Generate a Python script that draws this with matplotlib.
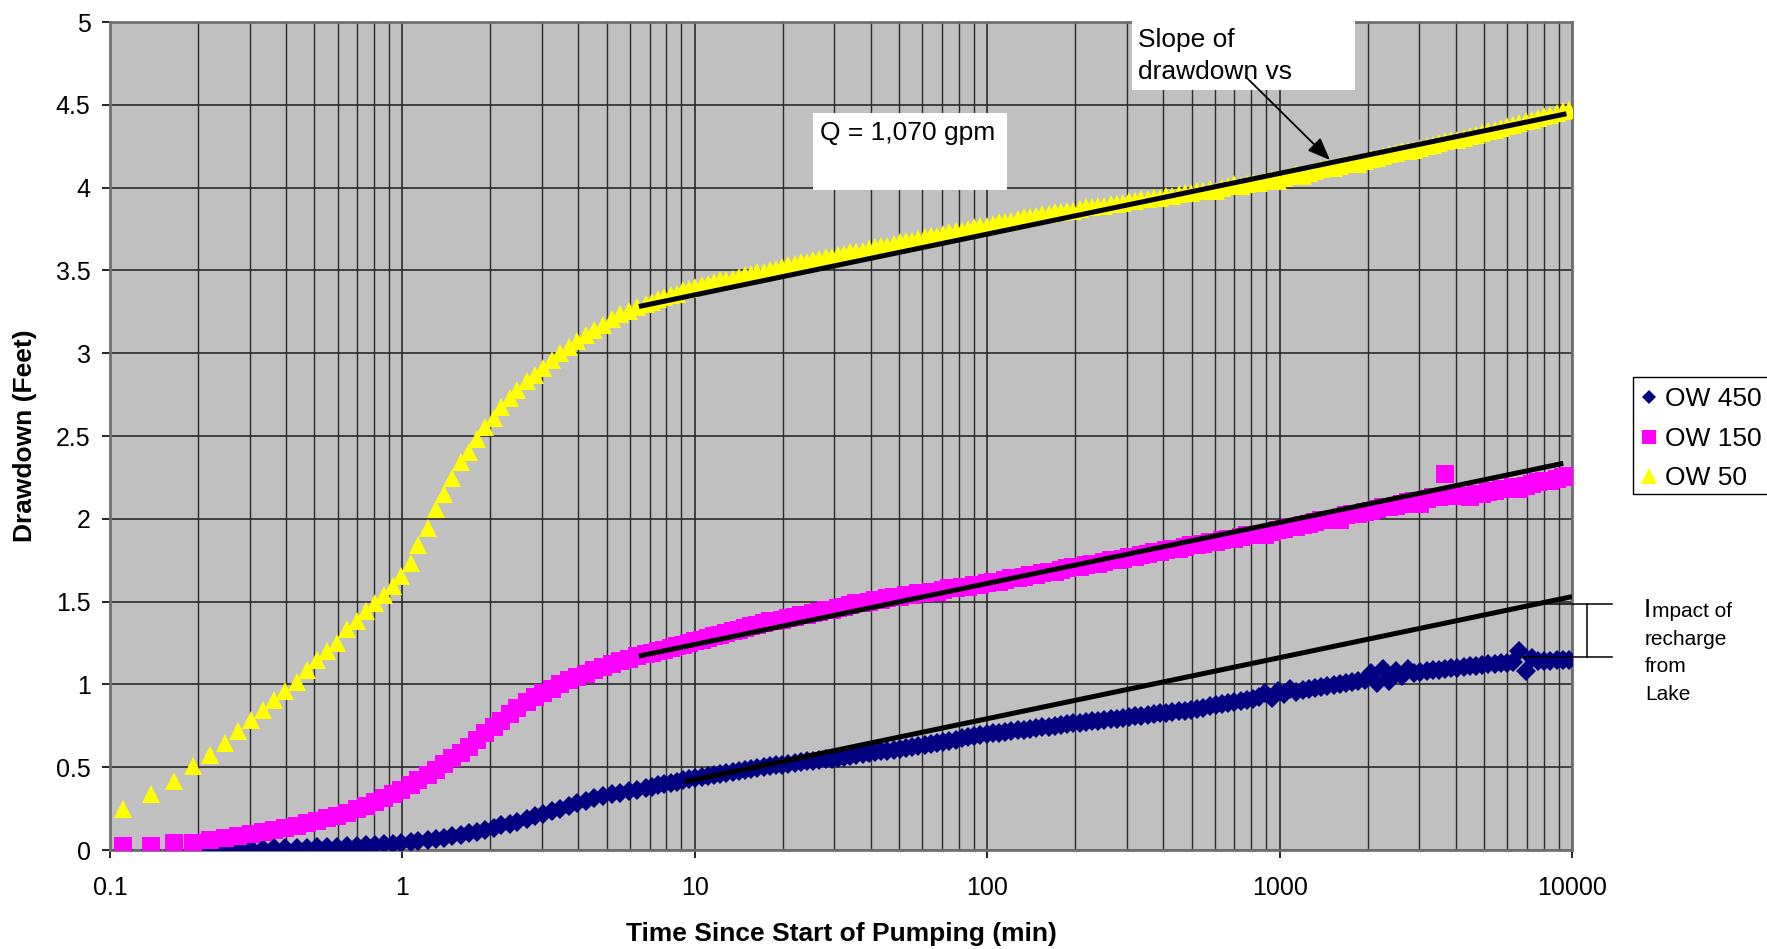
import matplotlib
matplotlib.use("Agg")
import matplotlib.pyplot as plt
from matplotlib.lines import Line2D
from matplotlib.patches import Rectangle, FancyArrowPatch
from matplotlib.ticker import LogLocator, NullFormatter

plt.rcParams['font.family'] = ['Liberation Sans', 'DejaVu Sans']

W, H = 1767, 949

# elapsed time since the pump was switched on (min), same logger schedule for all wells
time_min = [
    0.111, 0.138, 0.166, 0.193, 0.220, 0.247, 0.275, 0.303, 0.333, 0.365,
    0.397, 0.435, 0.471, 0.512, 0.554, 0.596, 0.645, 0.698, 0.750, 0.808,
    0.866, 0.930, 0.992, 1.066, 1.133, 1.221, 1.304, 1.387, 1.481, 1.585,
    1.69, 1.80, 1.92, 2.05, 2.18, 2.33, 2.47, 2.67, 2.85, 3.03,
    3.24, 3.45, 3.70, 3.96, 4.24, 4.53, 4.85, 5.19, 5.55, 5.94,
    6.36, 6.80, 7.14, 7.50, 7.87, 8.27, 8.68, 9.11, 9.57, 10.05,
    10.55, 11.08, 11.63, 12.21, 12.82, 13.46, 14.14, 14.84, 15.59, 16.36,
    17.18, 18.04, 18.94, 19.89, 20.89, 21.93, 23.03, 24.18, 25.39, 26.66,
    27.99, 29.39, 30.86, 32.40, 34.02, 35.72, 37.51, 39.38, 41.35, 43.42,
    45.59, 47.87, 50.26, 52.78, 55.41, 58.18, 61.09, 64.15, 67.35, 70.72,
    74.26, 77.97, 81.87, 85.96, 90.26, 94.77, 99.51, 104.5, 109.7, 115.2,
    121.0, 127.0, 133.4, 140.0, 147.0, 154.4, 162.1, 170.2, 178.7, 187.7,
    197.1, 206.9, 217.3, 228.1, 239.5, 251.5, 264.1, 277.3, 291.1, 305.7,
    321.0, 337.0, 353.9, 371.6, 390.1, 409.6, 430.1, 451.6, 474.2, 497.9,
    522.8, 548.9, 576.4, 605.2, 635.5, 667.2, 700.6, 735.6, 772.4, 811.0,
    851.6, 894.2, 938.9, 985.8, 1035, 1087, 1141, 1198, 1258, 1321,
    1387, 1457, 1530, 1606, 1686, 1771, 1859, 1952, 2050, 2152,
    2260, 2373, 2492, 2616, 2747, 2884, 3028, 3180, 3339, 3506,
    3681, 3865, 4058, 4261, 4474, 4698, 4933, 5180, 5439, 5711,
    5996, 6296, 6611, 6941, 7288, 7653, 8035, 8437, 8859, 9302,
    9767,
]

# drawdown (ft) in each observation well
ow450 = [
    0.0, 0.0, 0.0, 0.0, 0.0, 0.005, 0.005, 0.007, 0.008, 0.01,
    0.01, 0.012, 0.014, 0.016, 0.018, 0.02, 0.022, 0.025, 0.028, 0.031,
    0.034, 0.038, 0.042, 0.047, 0.053, 0.06, 0.067, 0.075, 0.083, 0.092,
    0.101, 0.11, 0.12, 0.131, 0.148, 0.16, 0.172, 0.19, 0.205, 0.22,
    0.236, 0.25, 0.267, 0.283, 0.298, 0.312, 0.325, 0.337, 0.347, 0.355,
    0.365, 0.375, 0.383, 0.39, 0.398, 0.405, 0.413, 0.42, 0.428, 0.435,
    0.442, 0.448, 0.454, 0.46, 0.466, 0.472, 0.478, 0.483, 0.489, 0.494,
    0.50, 0.506, 0.511, 0.516, 0.521, 0.526, 0.531, 0.535, 0.539, 0.544,
    0.548, 0.552, 0.558, 0.563, 0.569, 0.575, 0.58, 0.586, 0.59, 0.595,
    0.60, 0.605, 0.61, 0.616, 0.623, 0.629, 0.636, 0.642, 0.648, 0.655,
    0.661, 0.667, 0.674, 0.68, 0.687, 0.693, 0.70, 0.704, 0.709, 0.713,
    0.718, 0.722, 0.727, 0.732, 0.736, 0.741, 0.745, 0.75, 0.755, 0.759,
    0.764, 0.768, 0.772, 0.777, 0.781, 0.785, 0.79, 0.794, 0.798, 0.803,
    0.807, 0.812, 0.816, 0.82, 0.825, 0.829, 0.833, 0.838, 0.842, 0.846,
    0.853, 0.86, 0.867, 0.873, 0.88, 0.887, 0.894, 0.901, 0.907, 0.914,
    0.921, 0.948, 0.92, 0.96, 0.94, 0.975, 0.955, 0.968, 0.974, 0.98,
    0.986, 0.992, 0.998, 1.004, 1.01, 1.016, 1.022, 1.028, 1.07, 1.01,
    1.09, 1.02, 1.08, 1.05, 1.09, 1.07, 1.074, 1.079, 1.084, 1.088,
    1.093, 1.098, 1.102, 1.106, 1.11, 1.114, 1.117, 1.121, 1.125, 1.128,
    1.13, 1.133, 1.20, 1.08, 1.16, 1.14, 1.141, 1.143, 1.145, 1.146,
    1.148,
]
ow150 = [
    0.025, 0.025, 0.04, 0.045, 0.06, 0.07, 0.085, 0.097, 0.111, 0.121,
    0.135, 0.147, 0.161, 0.175, 0.191, 0.207, 0.225, 0.246, 0.266, 0.292,
    0.312, 0.336, 0.362, 0.393, 0.423, 0.453, 0.483, 0.517, 0.553, 0.588,
    0.624, 0.664, 0.704, 0.745, 0.78, 0.82, 0.855, 0.895, 0.925, 0.95,
    0.975, 1.0, 1.025, 1.045, 1.065, 1.085, 1.105, 1.125, 1.14, 1.155,
    1.17, 1.185, 1.19, 1.20, 1.21, 1.22, 1.23, 1.24, 1.25, 1.26,
    1.27, 1.28, 1.29, 1.30, 1.31, 1.32, 1.33, 1.34, 1.35, 1.36,
    1.37, 1.38, 1.38, 1.39, 1.40, 1.41, 1.42, 1.42, 1.43, 1.44,
    1.45, 1.45, 1.46, 1.47, 1.48, 1.49, 1.49, 1.50, 1.51, 1.51,
    1.52, 1.53, 1.53, 1.54, 1.54, 1.55, 1.55, 1.56, 1.56, 1.57,
    1.58, 1.58, 1.59, 1.59, 1.60, 1.60, 1.61, 1.62, 1.62, 1.63,
    1.64, 1.64, 1.65, 1.66, 1.66, 1.67, 1.68, 1.68, 1.69, 1.70,
    1.71, 1.71, 1.72, 1.73, 1.73, 1.74, 1.75, 1.75, 1.76, 1.77,
    1.77, 1.78, 1.79, 1.80, 1.80, 1.81, 1.82, 1.82, 1.83, 1.84,
    1.84, 1.85, 1.86, 1.86, 1.87, 1.88, 1.88, 1.89, 1.90, 1.90,
    1.91, 1.90, 1.92, 1.93, 1.94, 1.95, 1.95, 1.96, 1.97, 1.98,
    1.99, 1.99, 2.00, 1.99, 2.02, 2.03, 2.03, 2.04, 2.05, 2.06,
    2.07, 2.07, 2.08, 2.09, 2.10, 2.11, 2.09, 2.12, 2.13, 2.13,
    2.27, 2.14, 2.14, 2.14, 2.13, 2.15, 2.15, 2.16, 2.17, 2.18,
    2.18, 2.19, 2.18, 2.20, 2.21, 2.22, 2.23, 2.23, 2.24, 2.25,
    2.26,
]
ow50 = [
    0.25, 0.338, 0.417, 0.507, 0.572, 0.644, 0.718, 0.785, 0.845, 0.906,
    0.96, 1.016, 1.087, 1.147, 1.204, 1.248, 1.334, 1.385, 1.443, 1.49,
    1.54, 1.594, 1.655, 1.731, 1.842, 1.946, 2.057, 2.148, 2.245, 2.345,
    2.405, 2.48, 2.556, 2.61, 2.677, 2.727, 2.78, 2.83, 2.868, 2.909,
    2.96, 3.0, 3.035, 3.075, 3.11, 3.14, 3.17, 3.205, 3.235, 3.255,
    3.278, 3.30, 3.31, 3.33, 3.34, 3.35, 3.36, 3.38, 3.39, 3.40,
    3.41, 3.42, 3.43, 3.44, 3.44, 3.45, 3.46, 3.47, 3.48, 3.49,
    3.49, 3.50, 3.51, 3.52, 3.53, 3.54, 3.55, 3.55, 3.56, 3.57,
    3.58, 3.58, 3.59, 3.60, 3.61, 3.61, 3.62, 3.63, 3.64, 3.65,
    3.65, 3.66, 3.67, 3.68, 3.68, 3.69, 3.70, 3.71, 3.71, 3.72,
    3.73, 3.74, 3.74, 3.75, 3.76, 3.77, 3.77, 3.78, 3.79, 3.79,
    3.80, 3.81, 3.82, 3.82, 3.83, 3.84, 3.84, 3.85, 3.85, 3.86,
    3.86, 3.87, 3.88, 3.88, 3.89, 3.89, 3.90, 3.90, 3.91, 3.92,
    3.92, 3.93, 3.93, 3.94, 3.94, 3.95, 3.95, 3.96, 3.97, 3.97,
    3.98, 3.98, 3.99, 3.98, 4.00, 4.01, 4.02, 4.01, 4.02, 4.03,
    4.03, 4.04, 4.05, 4.04, 4.06, 4.07, 4.08, 4.07, 4.09, 4.10,
    4.11, 4.12, 4.12, 4.13, 4.14, 4.15, 4.14, 4.16, 4.17, 4.18,
    4.19, 4.20, 4.21, 4.22, 4.22, 4.23, 4.24, 4.25, 4.26, 4.27,
    4.28, 4.29, 4.29, 4.30, 4.31, 4.32, 4.33, 4.34, 4.35, 4.36,
    4.37, 4.38, 4.39, 4.40, 4.41, 4.42, 4.43, 4.44, 4.45, 4.46,
    4.47,
]

well_labels = ['OW 450', 'OW 150', 'OW 50']
well_colors = ['#000080', '#ff00ff', '#ffff00']
well_markers = ['D', 's', '^']

# straight-line fits through the late-time data: (start, end) time and drawdown
fit_t = [(6.44, 9570), (6.44, 9330), (9.26, 10000)]
fit_dd = [(3.282, 4.446), (1.171, 2.335), (0.412, 1.53)]

# departure of OW 450 from its fit line at the end of the test
recharge_dd = (1.164, 1.486)
recharge_t_start = (6745, 7960)

x_ticks = [0.1, 1, 10, 100, 1000, 10000]
x_tick_labels = ['0.1', '1', '10', '100', '1000', '10000']
y_ticks = [0, 0.5, 1, 1.5, 2, 2.5, 3, 3.5, 4, 4.5, 5]
y_tick_labels = ['0', '0.5', '1', '1.5', '2', '2.5', '3', '3.5', '4', '4.5', '5']


def px(x, y):
    # pixel position on the canvas -> figure fraction
    return (x / W, 1 - y / H)


fig = plt.figure(figsize=(W / 100, H / 100), dpi=100)
ax = fig.add_axes([110 / W, 1 - 850 / H, (1572 - 110) / W, (850 - 22) / H])
ax.set_facecolor('#c0c0c0')
ax.set_xscale('log')
ax.set_xlim(0.1, 10000)
ax.set_ylim(0, 5)

sizes = [10.5, 13.0, 13.5]
for dd, lab, col, mk, ms, z in zip([ow450, ow150, ow50], well_labels, well_colors,
                                   well_markers, sizes, [3, 4, 5]):
    ax.plot(time_min, dd, ls='none', marker=mk, ms=ms, color=col, mew=0,
            label=lab, zorder=z)

for (t0, t1), (d0, d1) in zip(fit_t, fit_dd):
    ax.plot([t0, t1], [d0, d1], color='black', lw=3.6, solid_capstyle='butt', zorder=6)

# bracket showing the recharge effect, runs out past the plot edge
ax.plot([recharge_t_start[1], 13700], [recharge_dd[1]] * 2, color='black', lw=1.1,
        clip_on=False, zorder=7)
ax.plot([recharge_t_start[0], 13700], [recharge_dd[0]] * 2, color='black', lw=1.1,
        clip_on=False, zorder=7)
ax.plot([11250, 11250], list(recharge_dd), color='black', lw=1.1, clip_on=False, zorder=7)

ax.set_xticks(x_ticks)
ax.set_xticklabels(x_tick_labels)
ax.xaxis.set_minor_locator(LogLocator(base=10, subs=range(2, 10), numticks=100))
ax.xaxis.set_minor_formatter(NullFormatter())
ax.set_yticks(y_ticks)
ax.set_yticklabels(y_tick_labels)

ax.grid(True, which='major', axis='both', color='#2a2a2a', lw=1.2)
ax.grid(True, which='minor', axis='x', color='#2a2a2a', lw=1.0)
ax.set_axisbelow(True)

ax.tick_params(axis='x', which='minor', length=0)
ax.tick_params(axis='x', which='major', length=6, width=1.2, pad=13, labelsize=18)
ax.tick_params(axis='y', which='major', length=6, width=1.2, pad=8, labelsize=18)
for sp in ax.spines.values():
    sp.set_color('#707070')
    sp.set_linewidth(2)

fig.text(*px(841, 934), 'Time Since Start of Pumping (min)', ha='center', va='center',
         fontsize=19, fontweight='bold')
fig.text(*px(25, 436), 'Drawdown (Feet)', ha='center', va='center', rotation=90,
         fontsize=19, fontweight='bold')

# text boxes
fig.add_artist(Rectangle(px(813, 190), (1007 - 813) / W, (190 - 113) / H,
                         transform=fig.transFigure, facecolor='white', edgecolor='none',
                         zorder=2))
fig.text(*px(820, 133), 'Q = 1,070 gpm', ha='left', va='center', fontsize=19, zorder=3)

fig.add_artist(Rectangle(px(1132, 90), (1355 - 1132) / W, (90 - 15) / H,
                         transform=fig.transFigure, facecolor='white', edgecolor='none',
                         zorder=2))
fig.text(*px(1138, 40), 'Slope of', ha='left', va='center', fontsize=19, zorder=3)
fig.text(*px(1138, 72), 'drawdown vs', ha='left', va='center', fontsize=19, zorder=3)
fig.add_artist(FancyArrowPatch(px(1246, 77), px(1330, 160), transform=fig.transFigure,
                               arrowstyle='-|>,head_length=0.55,head_width=0.22',
                               mutation_scale=25, color='black', lw=1.3, zorder=4,
                               shrinkA=0, shrinkB=0))

fig.text(*px(1644, 617), 'I', ha='left', va='baseline', fontsize=19)
fig.text(*px(1651.5, 617), 'mpact of', ha='left', va='baseline', fontsize=15)
for i, line in enumerate(['recharge', 'from', 'Lake']):
    fig.text(*px(1645, 645 + 27.3 * i), line, ha='left', va='baseline', fontsize=15)

# legend box, drawn by hand so it sits flush with the right edge
fig.add_artist(Rectangle(px(1633, 493.5), (1780 - 1633) / W, (493.5 - 377.5) / H,
                         transform=fig.transFigure, facecolor='white',
                         edgecolor='black', lw=1.0, zorder=2))
legend_rows = [396.7, 437.3, 475.6]
for lab, col, mk, ms, y in zip(well_labels, well_colors, well_markers,
                               [7.5, 9.5, 12.0], legend_rows):
    fig.add_artist(Line2D([1649 / W], [1 - y / H], transform=fig.transFigure,
                          ls='none', marker=mk, ms=ms, color=col, mew=0, zorder=3))
    fig.text(*px(1664.5, y + 9), lab, ha='left', va='baseline', fontsize=19, zorder=3)

fig.savefig('out.png', dpi=100)
